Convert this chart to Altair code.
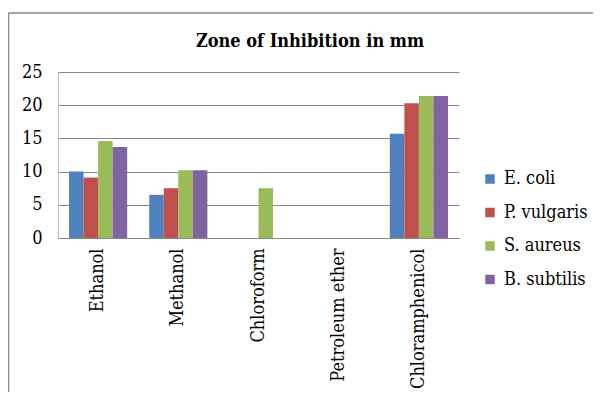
import altair as alt
import pandas as pd

solvents = ["Ethanol", "Methanol", "Chloroform", "Petroleum ether", "Chloramphenicol"]
organisms = ["E. coli", "P. vulgaris", "S. aureus", "B. subtilis"]
colors = ["#4F81BD", "#C0504D", "#9BBB59", "#8064A2"]
title_text = ["Zone of Inhibition in mm"]

e_coli = [10.0, 6.5, 0, 0, 15.7]
p_vulgaris = [9.1, 7.5, 0, 0, 20.3]
s_aureus = [14.6, 10.2, 7.5, 0, 21.4]
b_subtilis = [13.7, 10.2, 0, 0, 21.4]

rows = []
for org, vals in zip(organisms, [e_coli, p_vulgaris, s_aureus, b_subtilis]):
    for s, v in zip(solvents, vals):
        rows.append({"Solvent": s, "Organism": org, "Zone": v})
df = pd.DataFrame(rows)

FONT = "DejaVu Serif Condensed, DejaVu Serif"

bars = alt.Chart(df).mark_bar().encode(
    x=alt.X("Solvent:N", sort=solvents,
            scale=alt.Scale(paddingInner=0.275, paddingOuter=0.1375),
            axis=alt.Axis(title=None, labelAngle=-90, ticks=False, grid=False,
                          labelFontSize=18, labelFont=FONT, labelColor="#000",
                          labelPadding=10, domainColor="#888", domainWidth=1.2)),
    xOffset=alt.XOffset("Organism:N", sort=organisms),
    y=alt.Y("Zone:Q", scale=alt.Scale(domain=[0, 25]),
            axis=alt.Axis(title=None, values=[0, 5, 10, 15, 20, 25], ticks=False,
                          labelFontSize=18, labelFont=FONT, labelColor="#000",
                          labelPadding=16, gridColor="#888", gridWidth=1.2,
                          domainColor="#bbb")),
    color=alt.Color("Organism:N", sort=organisms,
                    scale=alt.Scale(domain=organisms, range=colors),
                    legend=alt.Legend(title=None, orient="none", legendX=423, legendY=98,
                                      symbolType="square", symbolSize=90,
                                      symbolStrokeWidth=0,
                                      labelFontSize=18, labelFont=FONT, labelColor="#000",
                                      rowPadding=15.5, labelOffset=5)),
)

one = alt.Data(values=[{"t": t} for t in title_text])
left_border = alt.Chart(one).mark_rule(color="#888", strokeWidth=1.5).encode(
    x=alt.value(-49.5), y=alt.value(-59), y2=alt.value(400))
top_border = alt.Chart(one).mark_rule(color="#888", strokeWidth=1.5).encode(
    y=alt.value(-59), x=alt.value(-49.5), x2=alt.value(600))
title = alt.Chart(one).mark_text(font=FONT, fontSize=18, fontWeight="bold", color="#000",
                                 align="center", baseline="alphabetic").encode(
    x=alt.value(252), y=alt.value(-25), text="t:N")

chart = alt.layer(bars, left_border, top_border, title).properties(
    width=401, height=166,
    autosize=alt.AutoSizeParams(type="none"),
    padding={"left": 50, "top": 64, "right": 134, "bottom": 154},
).configure_view(stroke=None)

chart.save("out.html", embed_options={"renderer": "svg", "actions": False})
